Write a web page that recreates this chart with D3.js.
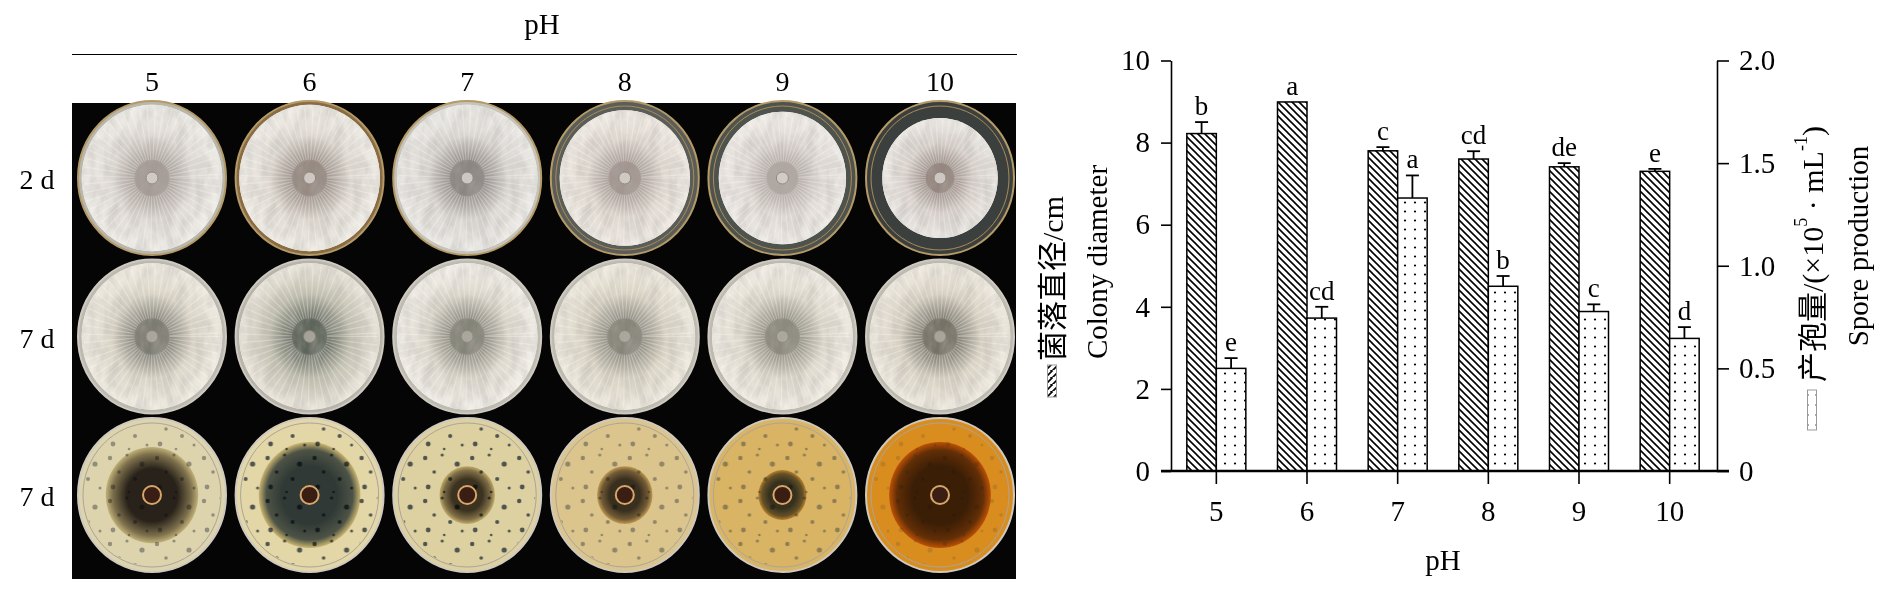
<!DOCTYPE html>
<html>
<head>
<meta charset="utf-8">
<script src="https://cdn.jsdelivr.net/npm/d3@7"></script>
<style>
  body { margin: 0; background: #fff; }
  text { font-family: "Liberation Serif", "Times New Roman", "Noto Sans CJK SC", serif; fill: #000; }
</style>
</head>
<body>
<script>
// data
const phLevels = ['5', '6', '7', '8', '9', '10']
const plateRows = ['2 d', '7 d', '7 d']
const colonyDiameter = [8.22, 8.99, 7.80, 7.60, 7.41, 7.30]
const colonyErr = [0.28, 0, 0.09, 0.19, 0.09, 0.06]
const colonyLetters = ['b', 'a', 'c', 'cd', 'de', 'e']
const sporeProduction = [0.50, 0.745, 1.33, 0.90, 0.777, 0.646]
const sporeErr = [0.05, 0.055, 0.11, 0.05, 0.035, 0.055]
const sporeLetters = ['e', 'cd', 'a', 'b', 'c', 'd']
const leftTicks = [0, 2, 4, 6, 8, 10]
const rightTicks = [0, 0.5, 1.0, 1.5, 2.0]

// plate looks (photo panel), row by row
const plateLook = [
    [
        { agar: '#b9b6ac', edge: '#f0eee9', mid: '#e0dbd6', core: '#a59b96', frac: 0.95 },
        { agar: '#8a6c44', edge: '#f1eee8', mid: '#e0dad2', core: '#968a82', frac: 0.95 },
        { agar: '#c6c3bb', edge: '#eeece8', mid: '#dcd8d3', core: '#8c8682', frac: 0.95 },
        { agar: '#5b5d58', edge: '#f0ebe4', mid: '#e0d8d0', core: '#a39690', frac: 0.88 },
        { agar: '#4f534e', edge: '#f0ece8', mid: '#e1dbd6', core: '#b0a6a2', frac: 0.86 },
        { agar: '#3b3f3e', edge: '#ece9e5', mid: '#d9d1cc', core: '#95867f', frac: 0.78 }
    ],
    [
        { agar: '#bcb9b1', edge: '#f1ede4', mid: '#dcd6c8', core: '#7d7c72', frac: 0.95 },
        { agar: '#b7b4ac', edge: '#eee9df', mid: '#c2c0b0', core: '#5e655a', frac: 0.95 },
        { agar: '#bebbb3', edge: '#f3f0ea', mid: '#ddd8cd', core: '#858479', frac: 0.95 },
        { agar: '#bdbab2', edge: '#f1ece1', mid: '#dad4c5', core: '#87857a', frac: 0.95 },
        { agar: '#bdbab2', edge: '#f2eee6', mid: '#dfd9cd', core: '#8c8a7e', frac: 0.95 },
        { agar: '#bdbab2', edge: '#f1ece2', mid: '#d9d2c4', core: '#767266', frac: 0.95 }
    ],
    [
        { agar: '#ddd3ad', edge: '#ddd3ad', mid: '#8a8068', core: '#221d1a', frac: 0.5 },
        { agar: '#e3d6a7', edge: '#e3d6a7', mid: '#4d5a62', core: '#2b3a47', frac: 0.55 },
        { agar: '#ddd0a1', edge: '#ddd0a1', mid: '#8c8068', core: '#3a3226', frac: 0.3 },
        { agar: '#dcc48d', edge: '#dcc48d', mid: '#7f7058', core: '#37322d', frac: 0.3 },
        { agar: '#d9b465', edge: '#d9b465', mid: '#6e6a5a', core: '#343a40', frac: 0.26 },
        { agar: '#da8d1f', edge: '#da8d1f', mid: '#6a4a28', core: '#3a2a1f', frac: 0.55 }
    ]
]

const W = 1890, H = 593
const svg = d3.select('body').append('svg')
    .attr('width', W)
    .attr('height', H)

const defs = svg.append('defs')

// hatch for colony diameter
let hatch = defs.append('pattern')
    .attr('id', 'hatch')
    .attr('patternUnits', 'userSpaceOnUse')
    .attr('width', 7).attr('height', 7)
hatch.append('rect').attr('width', 7).attr('height', 7).attr('fill', '#fff')
hatch.append('path')
    .attr('d', 'M0,0L7,7M-1,6L1,8M6,-1L8,1')
    .attr('stroke', '#000').attr('stroke-width', 1.6)

// dots for spore production
let dots = defs.append('pattern')
    .attr('id', 'dots')
    .attr('patternUnits', 'userSpaceOnUse')
    .attr('width', 10).attr('height', 9)
dots.append('rect').attr('width', 10).attr('height', 9).attr('fill', '#fff')
dots.append('circle').attr('cx', 5).attr('cy', 4.5).attr('r', 1.1).attr('fill', '#000')

// speckles for the 7 d underside plates
let speck = defs.append('pattern')
    .attr('id', 'speck')
    .attr('patternUnits', 'userSpaceOnUse')
    .attr('width', 47).attr('height', 43)
;[[5, 6, 2.2], [22, 3, 1.6], [37, 12, 2.6], [14, 20, 1.8], [30, 27, 2.0], [8, 35, 2.4], [42, 36, 1.5], [24, 40, 1.3]]
    .forEach(p => speck.append('circle').attr('cx', p[0]).attr('cy', p[1]).attr('r', p[2]).attr('fill', '#1f2a33'))

// fluffy texture
let fluff = defs.append('filter').attr('id', 'fluff')
    .attr('x', 0).attr('y', 0).attr('width', 1).attr('height', 1)
fluff.append('feTurbulence')
    .attr('type', 'fractalNoise').attr('baseFrequency', '0.09 0.05')
    .attr('numOctaves', 3).attr('seed', 4).attr('result', 'n')
fluff.append('feColorMatrix').attr('in', 'n').attr('type', 'matrix')
    .attr('values', '0 0 0 0 0.45  0 0 0 0 0.43  0 0 0 0 0.40  0 0 0 -1.6 1.05')
    .attr('result', 'g')
fluff.append('feComposite').attr('in', 'g').attr('in2', 'SourceAlpha').attr('operator', 'in')

// ---------------- photo panel ----------------
const photoLeft = 72, photoRight = 1016
const colX = d3.scalePoint().domain(phLevels).range([152, 940])
const rowY = d3.scalePoint().domain(d3.range(plateRows.length)).range([178, 495])
const rx = 74, ry = 77
const streakAngles = d3.range(0, 360, 7)

svg.append('text')
    .attr('x', 542).attr('y', 34)
    .attr('text-anchor', 'middle')
    .attr('font-size', 29)
    .text('pH')

svg.append('line')
    .attr('x1', photoLeft).attr('x2', photoRight + 1)
    .attr('y1', 54.5).attr('y2', 54.5)
    .attr('stroke', '#000').attr('stroke-width', 1)

svg.selectAll('.colLabel')
    .data(phLevels)
    .enter().append('text')
    .attr('class', 'colLabel')
    .attr('x', d => colX(d))
    .attr('y', 91)
    .attr('text-anchor', 'middle')
    .attr('font-size', 28)
    .text(d => d)

svg.append('rect')
    .attr('x', photoLeft).attr('y', 103)
    .attr('width', photoRight - photoLeft).attr('height', 476)
    .attr('fill', '#050505')

svg.selectAll('.rowLabel')
    .data(plateRows)
    .enter().append('text')
    .attr('class', 'rowLabel')
    .attr('x', 37)
    .attr('y', (d, i) => rowY(i) + 11)
    .attr('text-anchor', 'middle')
    .attr('font-size', 28)
    .text(d => d)

plateLook.forEach((row, r) => {
    row.forEach((look, c) => {
        let id = 'g' + r + '_' + c
        let grad = defs.append('radialGradient').attr('id', id)
        grad.append('stop').attr('offset', '0%').attr('stop-color', look.core)
        grad.append('stop').attr('offset', r === 2 ? '55%' : '22%').attr('stop-color', look.core)
        grad.append('stop').attr('offset', r === 2 ? '85%' : '58%').attr('stop-color', look.mid)
        grad.append('stop').attr('offset', '100%').attr('stop-color', look.edge)

        let g = svg.append('g')
            .attr('transform', 'translate(' + colX(phLevels[c]) + ',' + rowY(r) + ')')

        // dish
        g.append('ellipse')
            .attr('rx', rx).attr('ry', ry)
            .attr('fill', look.agar)
            .attr('stroke', r === 0 ? '#b49a66' : '#cfcac0').attr('stroke-width', 2)
        g.append('ellipse')
            .attr('rx', rx - 5).attr('ry', ry - 5)
            .attr('fill', 'none')
            .attr('stroke', r === 0 ? '#a88c58' : '#a8a59e').attr('stroke-width', 1)

        if (r < 2) {
            let ex = rx * look.frac, ey = ry * look.frac
            g.append('ellipse')
                .attr('rx', ex).attr('ry', ey)
                .attr('fill', look.edge)
            g.append('ellipse')
                .attr('rx', ex).attr('ry', ey)
                .attr('fill', 'url(#' + id + ')')
            g.append('ellipse')
                .attr('rx', ex).attr('ry', ey)
                .attr('fill', '#fff')
                .attr('filter', 'url(#fluff)')
                .attr('opacity', 0.5)
            // radial mycelium streaks
            g.selectAll('.streak')
                .data(streakAngles)
                .enter().append('line')
                .attr('x1', a => Math.cos(a * Math.PI / 180) * ex * 0.25)
                .attr('y1', a => Math.sin(a * Math.PI / 180) * ey * 0.25)
                .attr('x2', a => Math.cos(a * Math.PI / 180) * ex * 0.97)
                .attr('y2', a => Math.sin(a * Math.PI / 180) * ey * 0.97)
                .attr('stroke', '#fff')
                .attr('stroke-width', 1.2)
                .attr('opacity', 0.28)
            g.append('circle')
                .attr('r', 6)
                .attr('fill', r === 0 ? '#d8d2cc' : '#b0aca2')
                .attr('stroke', '#8e857e').attr('stroke-width', 1)
                .attr('opacity', 0.85)
        } else {
            g.append('ellipse')
                .attr('rx', rx - 6).attr('ry', ry - 6)
                .attr('fill', look.agar)
            g.append('ellipse')
                .attr('rx', rx - 6).attr('ry', ry - 6)
                .attr('fill', 'url(#speck)')
                .attr('opacity', c === 5 ? 0.15 : (c === 1 || c === 2 ? 0.75 : 0.4))
            g.append('ellipse')
                .attr('rx', rx * look.frac * 1.25).attr('ry', ry * look.frac * 1.25)
                .attr('fill', 'url(#' + id + ')')
                .attr('opacity', 0.95)
                .style('mix-blend-mode', 'multiply')
            g.append('circle')
                .attr('r', 9)
                .attr('fill', '#3a1e14')
                .attr('stroke', '#d7a66a').attr('stroke-width', 2)
        }
    })
})

// ---------------- bar chart ----------------
const x = d3.scaleBand().domain(phLevels).range([1171, 1715])
const sub = d3.scaleBand().domain(['colony', 'spore']).range([-29.5, 29.5])
const yL = d3.scaleLinear().domain([0, 10]).range([471, 60.5])
const yR = d3.scaleLinear().domain([0, 2]).range([471, 60.5])
const cx = d => x(d) + x.bandwidth() / 2

let tableau = phLevels.map((ph, i) => ({
    ph: ph,
    colony: colonyDiameter[i], colonyErr: colonyErr[i], colonyLetter: colonyLetters[i],
    spore: sporeProduction[i], sporeErr: sporeErr[i], sporeLetter: sporeLetters[i]
}))

// colony diameter bars
svg.selectAll('.barC')
    .data(tableau)
    .enter().append('rect')
    .attr('class', 'barC')
    .attr('x', d => cx(d.ph) + sub('colony'))
    .attr('width', sub.bandwidth())
    .attr('y', d => yL(d.colony))
    .attr('height', d => yL(0) - yL(d.colony))
    .attr('fill', 'url(#hatch)')
    .attr('stroke', '#000').attr('stroke-width', 1.5)

// spore production bars
svg.selectAll('.barS')
    .data(tableau)
    .enter().append('rect')
    .attr('class', 'barS')
    .attr('x', d => cx(d.ph) + sub('spore'))
    .attr('width', sub.bandwidth())
    .attr('y', d => yR(d.spore))
    .attr('height', d => yR(0) - yR(d.spore))
    .attr('fill', 'url(#dots)')
    .attr('stroke', '#000').attr('stroke-width', 1.5)

// error bars + letters
function errorBars(key, errKey, letterKey, yScale, band) {
    let g = svg.append('g')
    let mid = d => cx(d.ph) + sub(band) + sub.bandwidth() / 2
    let withErr = tableau.filter(d => d[errKey] > 0)
    g.selectAll('.stem')
        .data(withErr)
        .enter().append('line')
        .attr('x1', mid).attr('x2', mid)
        .attr('y1', d => yScale(d[key]))
        .attr('y2', d => yScale(d[key] + d[errKey]))
        .attr('stroke', '#000').attr('stroke-width', 1.8)
    g.selectAll('.cap')
        .data(withErr)
        .enter().append('line')
        .attr('x1', d => mid(d) - 6.5).attr('x2', d => mid(d) + 6.5)
        .attr('y1', d => yScale(d[key] + d[errKey]))
        .attr('y2', d => yScale(d[key] + d[errKey]))
        .attr('stroke', '#000').attr('stroke-width', 1.8)
    g.selectAll('.letter')
        .data(tableau)
        .enter().append('text')
        .attr('x', mid)
        .attr('y', d => yScale(d[key] + d[errKey]) - 7)
        .attr('text-anchor', 'middle')
        .attr('font-size', 27)
        .text(d => d[letterKey])
}
errorBars('colony', 'colonyErr', 'colonyLetter', yL, 'colony')
errorBars('spore', 'sporeErr', 'sporeLetter', yR, 'spore')

// axes
function styleAxis(g, w) {
    g.selectAll('path.domain').attr('stroke', '#000').attr('stroke-width', w)
    g.selectAll('.tick line').attr('stroke', '#000').attr('stroke-width', 1.6)
    g.selectAll('.tick text')
        .attr('font-family', '"Liberation Serif", "Times New Roman", serif')
        .attr('font-size', 29)
        .attr('fill', '#000')
}

let axL = svg.append('g')
    .attr('transform', 'translate(1171,0)')
    .call(d3.axisLeft(yL).tickValues(leftTicks).tickSize(10).tickPadding(11).tickSizeOuter(0))
styleAxis(axL, 1.6)

let axR = svg.append('g')
    .attr('transform', 'translate(1717,0)')
    .call(d3.axisRight(yR).tickValues(rightTicks)
        .tickFormat(d => d === 0 ? '0' : d3.format('.1f')(d))
        .tickSize(12).tickPadding(10).tickSizeOuter(0))
styleAxis(axR, 1.6)

let axB = svg.append('g')
    .attr('transform', 'translate(0,471)')
    .call(d3.axisBottom(x).tickSize(13).tickPadding(16).tickSizeOuter(0))
axB.select('path.domain').remove()
styleAxis(axB, 1.6)
svg.append('line')
    .attr('x1', 1161).attr('x2', 1729)
    .attr('y1', 471).attr('y2', 471)
    .attr('stroke', '#000').attr('stroke-width', 2.6)

svg.append('text')
    .attr('x', 1443).attr('y', 570)
    .attr('text-anchor', 'middle')
    .attr('font-size', 29)
    .text('pH')

// axis titles with legend swatches (rotated)
let leftTitle = svg.append('g').attr('transform', 'translate(1052,0) rotate(-90)')
leftTitle.append('rect')
    .attr('x', -397).attr('y', -4.5)
    .attr('width', 32).attr('height', 9)
    .attr('fill', 'url(#hatch)')
    .attr('stroke', '#999').attr('stroke-width', 1)
leftTitle.append('text')
    .attr('x', -361).attr('y', 0)
    .attr('dominant-baseline', 'central')
    .attr('font-size', 30)
    .text('菌落直径/cm')

svg.append('text')
    .attr('transform', 'translate(1097,262) rotate(-90)')
    .attr('text-anchor', 'middle')
    .attr('dominant-baseline', 'central')
    .attr('font-size', 29)
    .text('Colony diameter')

let rightTitle = svg.append('g').attr('transform', 'translate(1812,0) rotate(-90)')
rightTitle.append('rect')
    .attr('x', -430).attr('y', -4.5)
    .attr('width', 40).attr('height', 9)
    .attr('fill', 'url(#dots)')
    .attr('stroke', '#999').attr('stroke-width', 1)
let rt = rightTitle.append('text')
    .attr('x', -382).attr('y', 0)
    .attr('dominant-baseline', 'central')
    .attr('font-size', 30)
rt.append('tspan').text('产孢量/(×10')
rt.append('tspan').attr('font-size', 18).attr('dy', -11).text('5')
rt.append('tspan').attr('dy', 11).text(' · mL')
rt.append('tspan').attr('font-size', 18).attr('dy', -11).text('-1')
rt.append('tspan').attr('dy', 11).text(')')

svg.append('text')
    .attr('transform', 'translate(1858,246) rotate(-90)')
    .attr('text-anchor', 'middle')
    .attr('dominant-baseline', 'central')
    .attr('font-size', 29)
    .text('Spore production')
</script>
</body>
</html>
